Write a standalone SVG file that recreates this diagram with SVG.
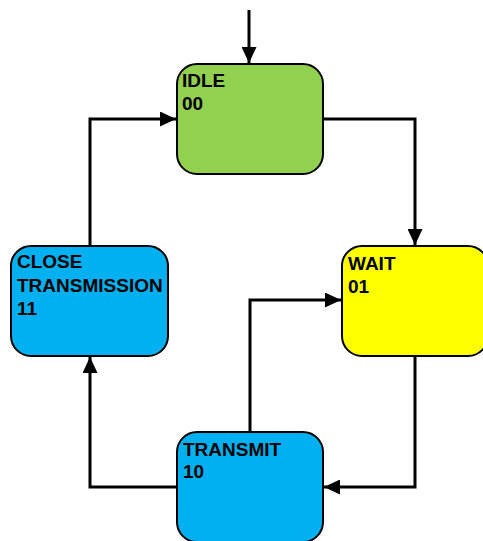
<svg xmlns="http://www.w3.org/2000/svg" width="483" height="541" viewBox="0 0 483 541">
  <style>
    .box { stroke: #000; stroke-width: 2; }
    .lbl { font-family: "Liberation Sans", Arial, sans-serif; font-weight: bold; font-size: 19px; fill: #000; }
    .wire { fill: none; stroke: #000; stroke-width: 3; }
  </style>
  <defs>
    <marker id="arrow" markerUnits="userSpaceOnUse" markerWidth="17" markerHeight="15" refX="16" refY="7.5" orient="auto">
      <path d="M0,0 L16,7.5 L0,15 Z" fill="#000"/>
    </marker>
  </defs>

  <rect width="483" height="541" fill="#fff"/>

  <g id="connectors">
    <!-- initial transition into IDLE -->
    <path class="wire" d="M249,10 V63" marker-end="url(#arrow)"/>
    <!-- IDLE -> WAIT -->
    <path class="wire" d="M323,119 H415 V245" marker-end="url(#arrow)"/>
    <!-- WAIT -> TRANSMIT -->
    <path class="wire" d="M415,356 V487 H324" marker-end="url(#arrow)"/>
    <!-- TRANSMIT -> WAIT -->
    <path class="wire" d="M250,432 V300 H341" marker-end="url(#arrow)"/>
    <!-- TRANSMIT -> CLOSE TRANSMISSION -->
    <path class="wire" d="M177,487 H90 V357" marker-end="url(#arrow)"/>
    <!-- CLOSE TRANSMISSION -> IDLE -->
    <path class="wire" d="M90,246 V119 H176" marker-end="url(#arrow)"/>
  </g>

  <g id="idle">
    <rect class="box" x="177" y="64" width="146" height="110" rx="20" fill="#92D050"/>
    <text class="lbl" x="182" y="87">IDLE</text>
    <text class="lbl" x="182" y="110">00</text>
  </g>

  <g id="wait">
    <rect class="box" x="342" y="246" width="146" height="110" rx="20" fill="#FFFF00"/>
    <text class="lbl" x="348" y="270">WAIT</text>
    <text class="lbl" x="348" y="293">01</text>
  </g>

  <g id="transmit">
    <rect class="box" x="177" y="432" width="146" height="110" rx="20" fill="#00B0F0"/>
    <text class="lbl" x="183" y="456">TRANSMIT</text>
    <text class="lbl" x="183" y="478">10</text>
  </g>

  <g id="close-transmission">
    <rect class="box" x="11" y="246" width="157" height="110" rx="20" fill="#00B0F0"/>
    <text class="lbl" x="17" y="268">CLOSE</text>
    <text class="lbl" x="17" y="292">TRANSMISSION</text>
    <text class="lbl" x="17" y="315">11</text>
  </g>
</svg>
